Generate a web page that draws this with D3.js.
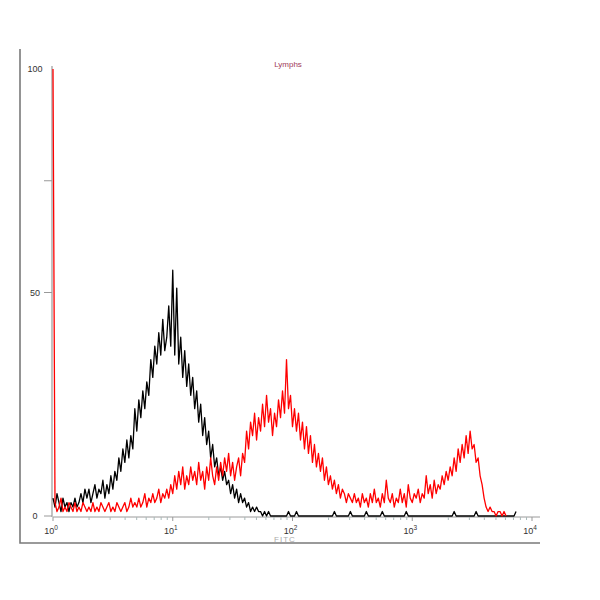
<!DOCTYPE html>
<html>
<head>
<meta charset="utf-8">
<script src="https://cdn.jsdelivr.net/npm/d3@7"></script>
<style>
html,body{margin:0;padding:0;background:#fff;}
svg{display:block;}
text{font-family:"Liberation Sans",Arial,sans-serif;}
</style>
</head>
<body>
<svg id="c" width="600" height="600"></svg>
<script>
// ---- data ----
const title = "Lymphs";
const xLabel = "FITC";
const binsPerDecade = 60;           // histogram channels per decade (log axis)
const xTickExponents = [0, 1, 2, 3, 4];
const yTickValues = [0, 50, 75];
const yLabelValues = [0, 50, 100];

// black (control) histogram, % of max, channel i -> 10^(i/60)
const controlCounts = [
 4,2,5,3,1,4,2,3,1,3, 2,4,2,3,5,3,6,4,6,3,
 5,7,4,6,5,8,4,7,5,9, 6,10,8,13,10,15,12,17,13,18,
 15,24,19,26,22,28,24,30,27,35, 31,38,34,41,36,44,37,40,47,38,
 55,36,51,34,40,31,37,29,34,27, 31,24,28,21,25,18,22,16,19,13,
 16,11,13,9,11,8,10,7,8,5, 7,4,6,3,5,3,4,2,3,1,
 2,1,2,1,1,0,1,0,1,0, 0,0,0,0,0,0,0,0,1,0,
 0,0,1,0,0,0,0,0,0,0, 0,0,0,0,0,0,0,0,0,0,
 0,1,0,0,0,0,0,0,0,1, 0,0,0,0,0,0,0,1,0,0,
 0,0,0,0,0,1,0,0,0,0, 0,0,0,0,0,0,0,1,0,0,
 0,0,0,0,0,0,0,0,0,0, 0,0,0,0,0,0,0,0,0,0,
 0,1,0,0,0,0,0,0,0,0, 0,0,1,0,0,0,0,0,0,0,
 0,0,0,0,0,0,0,0,0,0, 0,0,1
];

// red (stained) histogram, % of max
const stainedCounts = [
 100,3,1,2,4,1,2,1,3,2, 1,3,1,2,1,3,2,1,2,1,
 3,1,2,1,3,2,1,2,3,1, 2,1,3,2,1,2,3,1,2,4,
 2,3,2,4,2,3,5,2,4,3, 5,3,4,6,3,5,4,6,4,7,
 5,9,6,10,7,11,6,9,7,11, 8,10,7,12,8,10,6,11,8,13,
 9,7,11,8,12,9,13,10,14,9, 12,8,11,13,9,14,12,19,15,21,
 18,23,17,22,19,25,20,27,21,24, 18,23,20,26,22,28,23,35,24,27,
 20,24,19,23,17,21,15,20,14,18, 12,16,11,14,10,13,8,11,7,9,
 6,8,5,7,4,6,5,3,5,4, 3,5,3,4,2,5,3,4,2,5,
 3,6,3,4,2,5,3,8,4,3, 5,2,4,3,6,3,5,2,7,4,
 3,5,4,6,3,5,4,9,5,7, 4,8,5,7,6,9,7,10,8,11,
 9,13,10,15,12,16,13,18,14,19, 15,16,12,13,9,7,4,2,1,2,
 1,1,0,1,1,0,1,0
];

// ---- drawing ----
const svg = d3.select("#c");
const x = d3.scaleLog().domain([1, 1e4]).range([53, 532]);
const y = d3.scaleLinear().domain([0, 100]).range([516, 69]);
const chan = i => Math.pow(10, i / binsPerDecade);

// outer frame (left & bottom)
svg.append("path").attr("d", "M20,49V543H540")
  .attr("fill", "none").attr("stroke", "#7a7a7a").attr("stroke-width", 1.6);

// x axis line
svg.append("line").attr("x1", x(1)).attr("x2", 540).attr("y1", y(0) + 1).attr("y2", y(0) + 1)
  .attr("stroke", "#9a9a9a").attr("stroke-width", 1);

// minor ticks on x
const minor = [];
for (let e = 0; e < 4; e++) for (let m = 2; m <= 9; m++) minor.push(m * Math.pow(10, e));
svg.append("g").selectAll("line").data(minor).join("line")
  .attr("x1", d => x(d)).attr("x2", d => x(d))
  .attr("y1", y(0) + 1).attr("y2", y(0) + 4)
  .attr("stroke", "#a8b8b8").attr("stroke-width", 1);
svg.append("g").selectAll("line").data(xTickExponents).join("line")
  .attr("x1", d => x(Math.pow(10, d))).attr("x2", d => x(Math.pow(10, d)))
  .attr("y1", y(0) + 1).attr("y2", y(0) + 5)
  .attr("stroke", "#999").attr("stroke-width", 1);

// y axis line
svg.append("line").attr("x1", 52).attr("x2", 52).attr("y1", 66).attr("y2", y(0) + 1)
  .attr("stroke", "#9a9a9a").attr("stroke-width", 1.2);
svg.append("g").selectAll("line").data(yTickValues).join("line")
  .attr("x1", 44).attr("x2", 52).attr("y1", d => y(d)).attr("y2", d => y(d))
  .attr("stroke", "#999").attr("stroke-width", 1);

// y labels
svg.append("g").selectAll("text").data(yLabelValues).join("text")
  .attr("x", 35).attr("y", d => y(d) + 3)
  .attr("text-anchor", "middle").attr("font-size", 9).attr("fill", "#333")
  .text(d => d);

// x labels 10^n
const xl = svg.append("g").selectAll("text").data(xTickExponents).join("text")
  .attr("x", d => x(Math.pow(10, d)) - 2).attr("y", 534)
  .attr("text-anchor", "middle").attr("font-size", 9).attr("fill", "#333");
xl.append("tspan").text("10");
xl.append("tspan").attr("dy", -4).attr("font-size", 6.5).text(d => d);

// axis title and plot title
svg.append("text").attr("x", 285).attr("y", 542).attr("text-anchor", "middle")
  .attr("font-size", 8).attr("fill", "#aaa").attr("letter-spacing", 1).text(xLabel);
svg.append("text").attr("x", 288).attr("y", 67).attr("text-anchor", "middle")
  .attr("font-size", 8).attr("fill", "#a03a5a").text(title);

// histograms
const line = d3.line().x((d, i) => x(chan(i))).y(d => y(d));
svg.append("path").datum(controlCounts).attr("d", line)
  .attr("fill", "none").attr("stroke", "#000").attr("stroke-width", 1.3).attr("stroke-linejoin", "round");
svg.append("path").datum(stainedCounts).attr("d", line)
  .attr("fill", "none").attr("stroke", "#f00").attr("stroke-width", 1.3).attr("stroke-linejoin", "round");
</script>
</body>
</html>
